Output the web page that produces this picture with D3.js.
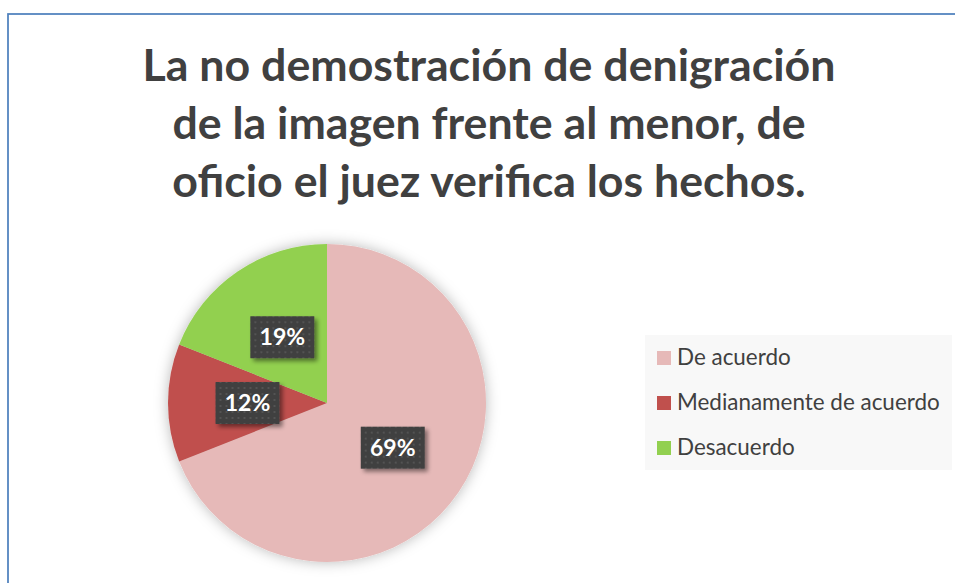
<!DOCTYPE html>
<html lang="es">
<head>
<meta charset="UTF-8">
<title>La no demostración de denigración</title>
<script src="https://d3js.org/d3.v7.min.js"></script>
<style>
    body{ margin:0; background:#fff; }
    svg{ display:block; }
    text{ font-family: Lato, "Open Sans", Arial, sans-serif; }
</style>
</head>
<body>
<svg width="955" height="583"></svg>
<script>
    // chart data
    const titleLines = ["La no demostración de denigración", "de la imagen frente al menor, de", "oficio el juez verifica los hechos."]
    const categories = ["De acuerdo", "Medianamente de acuerdo", "Desacuerdo"]
    const values = [69, 12, 19]
    const colors = ["#E6B9B8", "#C0504D", "#92D050"]

    const data = categories.map((c, i) => ({name: c, value: values[i], color: colors[i]}))

    let svg = d3.select("svg")
    let width = 955, height = 583

    let defs = svg.append("defs")

    // soft glow behind the pie
    let glow = defs.append("filter").attr("id", "glow")
        .attr("x", "-20%").attr("y", "-20%").attr("width", "140%").attr("height", "140%")
    glow.append("feDropShadow").attr("dx", 0).attr("dy", 0)
        .attr("stdDeviation", 7).attr("flood-color", "#000").attr("flood-opacity", 0.28)

    // shadow under the label boxes
    let shadow = defs.append("filter").attr("id", "boxShadow")
        .attr("x", "-20%").attr("y", "-20%").attr("width", "150%").attr("height", "160%")
    shadow.append("feDropShadow").attr("dx", 3).attr("dy", 3)
        .attr("stdDeviation", 2).attr("flood-color", "#000").attr("flood-opacity", 0.45)

    // dotted texture of the label boxes
    let pat = defs.append("pattern").attr("id", "dots")
        .attr("width", 6).attr("height", 6).attr("patternUnits", "userSpaceOnUse")
    pat.append("rect").attr("width", 6).attr("height", 6).attr("fill", "#404040")
    pat.append("rect").attr("x", 2).attr("y", 2).attr("width", 2).attr("height", 2).attr("fill", "#525252")

    // outer border (runs off the right and bottom edges)
    svg.append("rect")
        .attr("x", 8).attr("y", 14)
        .attr("width", width + 20).attr("height", height + 20)
        .attr("fill", "none").attr("stroke", "#4F81BD").attr("stroke-width", 1.75)

    // title, sized to fit the measured width
    let title = svg.append("g")
    let titleSize = 40
    let titleText = title.selectAll("text")
        .data(titleLines)
        .enter()
        .append("text")
        .attr("x", 489)
        .attr("y", (d, i) => 81 + i * 58)
        .attr("text-anchor", "middle")
        .attr("font-weight", "bold")
        .attr("font-size", titleSize)
        .attr("fill", "#404040")
        .text(d => d)
    let w0 = titleText.node().getComputedTextLength()
    titleSize = titleSize * 693 / w0
    titleText.attr("font-size", titleSize)

    // pie
    const cx = 327, cy = 403, radius = 159
    let pie = d3.pie().sort(null).value(d => d.value)
    let arc = d3.arc().innerRadius(0).outerRadius(radius)
    let arcs = pie(data)

    let pieGroup = svg.append("g")
        .attr("transform", `translate(${cx},${cy})`)

    pieGroup.append("g")
        .attr("filter", "url(#glow)")
        .selectAll("path")
        .data(arcs)
        .enter()
        .append("path")
        .attr("d", arc)
        .attr("fill", d => d.data.color)

    // data labels at the centroid of each slice
    let labels = pieGroup.selectAll(".lbl")
        .data(arcs)
        .enter()
        .append("g")
        .attr("class", "lbl")
        .attr("transform", d => `translate(${arc.centroid(d)})`)

    labels.append("rect")
        .attr("x", -32).attr("y", -21)
        .attr("width", 64).attr("height", 42)
        .attr("fill", "url(#dots)")
        .attr("filter", "url(#boxShadow)")

    labels.append("text")
        .attr("text-anchor", "middle")
        .attr("dy", 8)
        .attr("font-weight", "bold")
        .attr("font-size", 23)
        .attr("fill", "#fff")
        .text(d => d.data.value + "%")

    // legend
    let legend = svg.append("g")
    legend.append("rect")
        .attr("x", 645).attr("y", 335)
        .attr("width", 307).attr("height", 135)
        .attr("fill", "#F8F8F8")

    let legendY = d3.scalePoint()
        .domain(categories)
        .range([358, 448])

    let items = legend.selectAll(".item")
        .data(data)
        .enter()
        .append("g")
        .attr("class", "item")
        .attr("transform", d => `translate(657,${legendY(d.name)})`)

    items.append("rect")
        .attr("x", 0).attr("y", -7)
        .attr("width", 14).attr("height", 14)
        .attr("fill", d => d.color)

    let legendText = items.append("text")
        .attr("x", 20)
        .attr("dy", 7)
        .attr("font-size", 20)
        .attr("fill", "#404040")
        .text(d => d.name)
    let lw = legendText.filter((d, i) => i === 1).node().getComputedTextLength()
    legendText.attr("font-size", 20 * 263 / lw)
</script>
</body>
</html>
